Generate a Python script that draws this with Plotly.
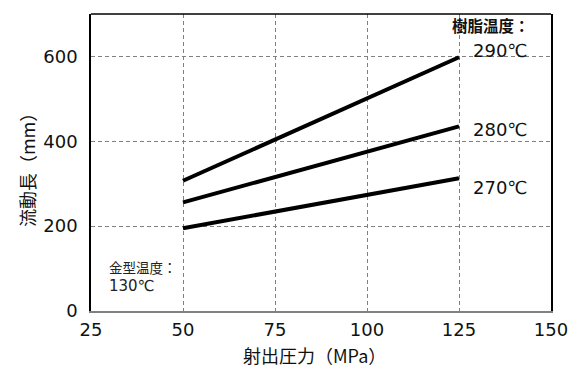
import plotly.graph_objects as go

pressure = [50, 125]
series_names = ["290℃", "280℃", "270℃"]
flow_290 = [307, 598]
flow_280 = [256, 435]
flow_270 = [195, 313]
x_ticks = [25, 50, 75, 100, 125, 150]
y_ticks = [0, 200, 400, 600]

CJK = "Noto Sans CJK JP, Noto Sans, sans-serif"
NUM = "DejaVu Sans, Noto Sans CJK JP, sans-serif"

fig = go.Figure()
for name, vals in zip(series_names, [flow_290, flow_280, flow_270]):
    fig.add_trace(go.Scatter(x=pressure, y=vals, mode="lines", name=name,
                             line=dict(color="black", width=4), showlegend=False))

fig.update_layout(
    width=580, height=382,
    margin=dict(l=91, r=29, t=14, b=71),
    paper_bgcolor="white", plot_bgcolor="white",
    font=dict(family=CJK, color="#111111"),
    xaxis=dict(range=[25, 150], tickvals=x_ticks, showgrid=True, automargin=False,
               gridcolor="#808080", griddash="4px,3px", gridwidth=1,
               showline=True, linecolor="#808080", linewidth=1.5,
               zeroline=False, ticks="", ticklabelstandoff=2,
               tickfont=dict(size=18, family=NUM, color="#111111")),
    yaxis=dict(range=[0, 700], tickvals=y_ticks, showgrid=True, automargin=False,
               gridcolor="#808080", griddash="4px,3px", gridwidth=1,
               showline=True, linecolor="black", linewidth=1.5, mirror=True,
               zeroline=False, ticks="", ticklabelstandoff=8,
               tickfont=dict(size=18, family=NUM, color="#111111")),
)

fig.add_shape(type="line", xref="paper", yref="paper", x0=0, x1=1, y0=1, y1=1,
              line=dict(color="black", width=1.5))

# axis titles
fig.add_annotation(xref="paper", yref="paper", x=0.485, y=-0.147, xanchor="center",
                   yanchor="middle", text="射出圧力（MPa）",
                   showarrow=False, font=dict(size=18, family=CJK, color="#111111"))
fig.add_annotation(xref="paper", yref="paper", x=-0.139, y=0.488, xanchor="center",
                   yanchor="middle", text="流動長（mm）",
                   textangle=-90, showarrow=False,
                   font=dict(size=18, family=CJK, color="#111111"))

fig.add_annotation(x=144.8, y=674, text="<b>樹脂温度：</b>", showarrow=False, xanchor="right",
                   font=dict(size=15.5, family=CJK, color="#111111"))
for name, yv in zip(series_names, [615, 427, 292]):
    fig.add_annotation(x=144.3, y=yv, text=name, showarrow=False, xanchor="right",
                       font=dict(size=18, family=NUM, color="#111111"))

fig.add_annotation(x=29.35, y=103.7, text="金型温度：", showarrow=False, xanchor="left",
                   font=dict(size=13.5, family=CJK, color="#222222"))
fig.add_annotation(x=29.35, y=59, text="130℃", showarrow=False, xanchor="left",
                   font=dict(size=15, family=NUM, color="#222222"))

fig.write_html("out.html", config={"displayModeBar": False},
               post_script="document.body.style.margin='0';document.body.style.overflow='hidden';")
